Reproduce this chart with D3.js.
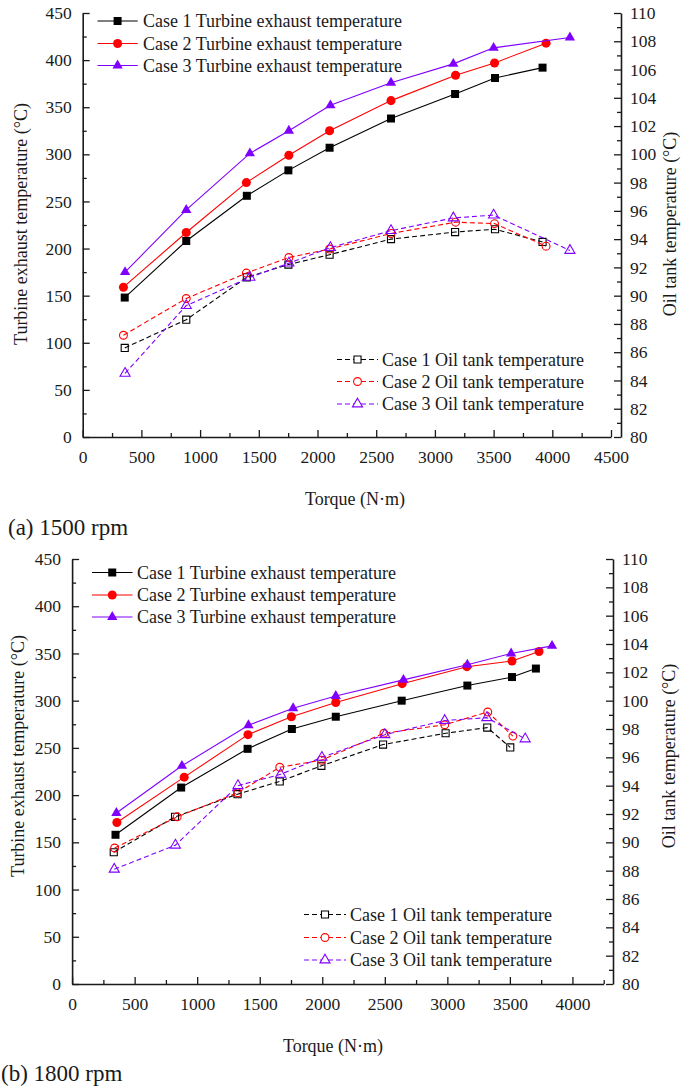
<!DOCTYPE html>
<html>
<head>
<meta charset="utf-8">
<script src="https://d3js.org/d3.v7.min.js"></script>
<style>
  body { margin: 0; background: #fff; }
  svg text { font-family: "Liberation Serif", "Times New Roman", serif; fill: #1a1a1a; }
</style>
</head>
<body>
<script>
// ---------- data ----------
const seriesNames = [
  "Case 1 Turbine exhaust temperature",
  "Case 2 Turbine exhaust temperature",
  "Case 3 Turbine exhaust temperature",
  "Case 1 Oil tank temperature",
  "Case 2 Oil tank temperature",
  "Case 3 Oil tank temperature"
];

// (a) 1500 rpm
const aTorque1 = [358, 882, 1398, 1752, 2103, 2626, 3172, 3512, 3917];
const aTorque2 = [347, 882, 1394, 1756, 2103, 2626, 3176, 3508, 3947];
const aTorque3 = [361, 882, 1424, 1756, 2110, 2626, 3157, 3500, 4150];
const aExhaust1 = [148, 208, 256, 283, 307, 338, 364, 381, 392];
const aExhaust2 = [159, 217, 270, 299, 325, 357, 384, 397, 418];
const aExhaust3 = [175, 241, 301, 325, 352, 376, 396, 413, 424];
const aOil1 = [86.3, 88.3, 91.3, 92.2, 92.9, 94.0, 94.5, 94.7, 93.8];
const aOil2 = [87.2, 89.8, 91.6, 92.7, 93.3, 94.4, 95.2, 95.1, 93.5];
const aOil3 = [84.5, 89.3, 91.3, 92.3, 93.4, 94.6, 95.5, 95.7, 93.2];

// (b) 1800 rpm
const bTorque1 = [347, 872, 1403, 1757, 2108, 2635, 3160, 3517, 3708];
const bTorque2 = [358, 896, 1406, 1753, 2108, 2639, 3156, 3517, 3733];
const bTorque3 = [354, 878, 1410, 1767, 2108, 2649, 3160, 3510, 3837];
const bExhaust1 = [158, 208, 249, 270, 283, 300, 316, 325, 334];
const bExhaust2 = [171, 219, 264, 283, 298, 318, 336, 342, 352];
const bExhaust3 = [181, 231, 274, 292, 305, 322, 338, 350, 358];
const bOilTorque1 = [333, 823, 1323, 1660, 1993, 2486, 2986, 3319, 3503];
const bOilTorque2 = [340, 840, 1323, 1660, 1993, 2493, 2979, 3323, 3524];
const bOilTorque3 = [337, 826, 1326, 1667, 1997, 2500, 2979, 3316, 3622];
const bOil1 = [89.3, 91.8, 93.4, 94.3, 95.4, 96.9, 97.7, 98.1, 96.7];
const bOil2 = [89.6, 91.8, 93.5, 95.3, 95.8, 97.7, 98.3, 99.2, 97.5];
const bOil3 = [88.1, 89.8, 94.0, 94.8, 96.0, 97.6, 98.6, 98.8, 97.3];

const leftTicks = d3.range(0, 451, 50);
const rightTicks = d3.range(80, 111, 2);

// ---------- styles ----------
const colors = ["#000000", "#ff0000", "#8000ff"];
const shapes = [d3.symbolSquare, d3.symbolCircle, d3.symbolTriangle];
const filledSize = [64, 64, 46];
const openSize = [50, 48, 44];
const serif = '"Liberation Serif", "Times New Roman", serif';

const svg = d3.select("body").append("svg")
  .attr("width", 681)
  .attr("height", 1086);

function zip(xs, ys) {
  return xs.map((t, i) => ({ t: t, v: ys[i] }));
}

function drawPanel(p) {
  const x = d3.scaleLinear().domain([0, p.xMax]).range([p.left, p.xEnd]);
  const yL = d3.scaleLinear().domain([0, 450]).range([p.bottom, p.top]);
  const yR = d3.scaleLinear().domain([80, 110]).range([p.bottom, p.top]);
  const g = svg.append("g");
  const fmt = d3.format("d");

  // bottom axis, major + minor ticks pointing inward
  g.append("g")
    .attr("class", "axis")
    .attr("transform", `translate(0,${p.bottom})`)
    .call(d3.axisBottom(x).tickValues(d3.range(0, p.xLabelMax + 1, 500))
      .tickFormat(fmt).tickSizeInner(-7).tickSizeOuter(0).tickPadding(14));
  g.append("g")
    .attr("class", "axis minor")
    .attr("transform", `translate(0,${p.bottom})`)
    .call(d3.axisBottom(x).tickValues(d3.range(250, p.xMax + 1, 500))
      .tickSizeInner(-4).tickSizeOuter(0).tickFormat(""));

  // left axis
  g.append("g")
    .attr("class", "axis")
    .attr("transform", `translate(${p.left},0)`)
    .call(d3.axisLeft(yL).tickValues(leftTicks)
      .tickFormat(fmt).tickSizeInner(-7).tickSizeOuter(0).tickPadding(11));
  g.append("g")
    .attr("class", "axis minor")
    .attr("transform", `translate(${p.left},0)`)
    .call(d3.axisLeft(yL).tickValues(d3.range(25, 450, 50))
      .tickSizeInner(-4).tickSizeOuter(0).tickFormat(""));

  // right axis (offset a little from the end of the x axis)
  g.append("g")
    .attr("class", "axis")
    .attr("transform", `translate(${p.rightX},0)`)
    .call(d3.axisRight(yR).tickValues(rightTicks)
      .tickFormat(fmt).tickSizeInner(-7).tickSizeOuter(0).tickPadding(9));
  g.append("g")
    .attr("class", "axis minor")
    .attr("transform", `translate(${p.rightX},0)`)
    .call(d3.axisRight(yR).tickValues(d3.range(81, 110, 2))
      .tickSizeInner(-4).tickSizeOuter(0).tickFormat(""));

  g.selectAll(".axis").attr("font-family", serif).attr("font-size", 17.5);
  g.selectAll(".axis path.domain").attr("stroke", "#1a1a1a").attr("stroke-width", 1.6);
  g.selectAll(".axis .tick line").attr("stroke", "#1a1a1a").attr("stroke-width", 1.3);
  g.selectAll(".axis.minor path.domain").remove();
  g.selectAll(".axis text").attr("fill", "#1a1a1a");

  // axis titles
  g.append("text")
    .attr("transform", `translate(${p.lTitleX},${p.titleY}) rotate(-90)`)
    .attr("text-anchor", "middle").attr("dy", "0.35em")
    .style("font-size", "18px")
    .text("Turbine exhaust temperature (°C)");
  g.append("text")
    .attr("transform", `translate(${p.rTitleX},${p.titleY}) rotate(-90)`)
    .attr("text-anchor", "middle").attr("dy", "0.35em")
    .style("font-size", "18px")
    .text("Oil tank temperature (°C)");
  g.append("text")
    .attr("x", p.xTitleX).attr("y", p.bottom + 62)
    .attr("text-anchor", "middle").attr("dy", "0.35em")
    .style("font-size", "18px")
    .text("Torque (N·m)");
  g.append("text")
    .attr("x", p.capX).attr("y", p.capY)
    .attr("dy", "0.35em")
    .style("font-size", "23px")
    .text(p.caption);

  const line = (ys) => d3.line().x(d => x(d.t)).y(d => ys(d.v));

  // exhaust (solid, filled markers, left axis)
  p.exhaust.forEach((s, i) => {
    const pts = zip(s.t, s.v);
    g.append("path").datum(pts)
      .attr("d", line(yL))
      .attr("fill", "none").attr("stroke", colors[i]).attr("stroke-width", 1.1);
    g.selectAll(null).data(pts).join("path")
      .attr("transform", d => `translate(${x(d.t)},${yL(d.v)})`)
      .attr("d", d3.symbol().type(shapes[i]).size(filledSize[i]))
      .attr("fill", colors[i]);
  });

  // oil tank (dashed, open markers, right axis)
  p.oil.forEach((s, i) => {
    const pts = zip(s.t, s.v);
    g.append("path").datum(pts)
      .attr("d", line(yR))
      .attr("fill", "none").attr("stroke", colors[i]).attr("stroke-width", 1.1)
      .attr("stroke-dasharray", "5,3");
    g.selectAll(null).data(pts).join("path")
      .attr("transform", d => `translate(${x(d.t)},${yR(d.v)})`)
      .attr("d", d3.symbol().type(shapes[i]).size(openSize[i]))
      .attr("fill", "none").attr("stroke", colors[i]).attr("stroke-width", 1.1);
  });

  // legends
  function legend(L, offset, dashed) {
    [0, 1, 2].forEach(i => {
      const yy = L.ys[i];
      g.append("line")
        .attr("x1", L.x1).attr("x2", L.x2).attr("y1", yy).attr("y2", yy)
        .attr("stroke", colors[i]).attr("stroke-width", 1.1)
        .attr("stroke-dasharray", dashed ? "5,3" : null);
      g.append("path")
        .attr("transform", `translate(${(L.x1 + L.x2) / 2},${yy})`)
        .attr("d", d3.symbol().type(shapes[i]).size(dashed ? openSize[i] : filledSize[i]))
        .attr("fill", dashed ? "#fff" : colors[i])
        .attr("stroke", dashed ? colors[i] : "none")
        .attr("stroke-width", 1.1);
      g.append("text")
        .attr("x", L.tx).attr("y", yy).attr("dy", "0.35em")
        .style("font-size", "18px")
        .text(seriesNames[offset + i]);
    });
  }
  legend(p.legendTop, 0, false);
  legend(p.legendBottom, 3, true);
}

drawPanel({
  left: 82.7, xEnd: 611, rightX: 621, top: 13, bottom: 437,
  xMax: 4500, xLabelMax: 4500,
  lTitleX: 21, rTitleX: 670, titleY: 224, xTitleX: 355,
  capX: 8, capY: 527, caption: "(a) 1500 rpm",
  exhaust: [
    { t: aTorque1, v: aExhaust1 },
    { t: aTorque2, v: aExhaust2 },
    { t: aTorque3, v: aExhaust3 }
  ],
  oil: [
    { t: aTorque1, v: aOil1 },
    { t: aTorque2, v: aOil2 },
    { t: aTorque3, v: aOil3 }
  ],
  legendTop: { x1: 97.5, x2: 137.7, tx: 143, ys: [21, 43.5, 65.5] },
  legendBottom: { x1: 337, x2: 378, tx: 382, ys: [359.5, 381.5, 404] }
});

drawPanel({
  left: 72.1, xEnd: 603.7, rightX: 613, top: 559, bottom: 984,
  xMax: 4250, xLabelMax: 4000,
  lTitleX: 17.5, rTitleX: 669, titleY: 756, xTitleX: 333,
  capX: 1, capY: 1073, caption: "(b) 1800 rpm",
  exhaust: [
    { t: bTorque1, v: bExhaust1 },
    { t: bTorque2, v: bExhaust2 },
    { t: bTorque3, v: bExhaust3 }
  ],
  oil: [
    { t: bOilTorque1, v: bOil1 },
    { t: bOilTorque2, v: bOil2 },
    { t: bOilTorque3, v: bOil3 }
  ],
  legendTop: { x1: 92, x2: 132.5, tx: 137, ys: [572.5, 595, 617] },
  legendBottom: { x1: 304, x2: 346, tx: 350, ys: [914.5, 937.5, 960] }
});
</script>
</body>
</html>
